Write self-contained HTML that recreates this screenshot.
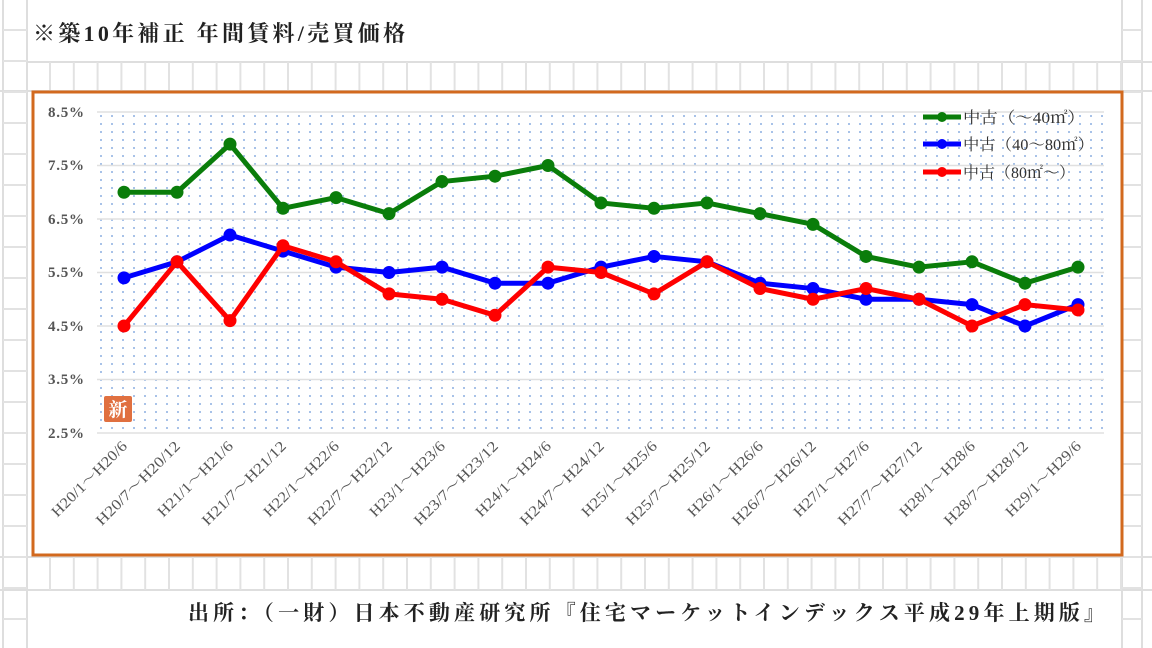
<!DOCTYPE html>
<html><head><meta charset="utf-8"><style>
html,body{margin:0;padding:0;background:#fff;}
svg{display:block;}
text{font-family:"Liberation Serif","Noto Serif CJK SC",serif;}
</style></head><body>
<svg width="1152" height="648" viewBox="0 0 1152 648" xmlns="http://www.w3.org/2000/svg">
<defs>
<pattern id="dots" x="97" y="112" width="11" height="8" patternUnits="userSpaceOnUse">
<rect x="3" y="3" width="2" height="2" fill="#a8c2e8"/>
</pattern>
</defs>
<g stroke="#dedede" stroke-width="2" fill="none" id="grid">
<line x1="3" y1="0" x2="3" y2="648"/>
<line x1="27" y1="0" x2="27" y2="648"/>
<line x1="1122" y1="0" x2="1122" y2="648"/>
<line x1="1142" y1="0" x2="1142" y2="648"/>
<line x1="27" y1="62" x2="1152" y2="62"/>
<line x1="0" y1="91" x2="1152" y2="91"/>
<line x1="0" y1="557" x2="1152" y2="557"/>
<line x1="0" y1="590" x2="1152" y2="590"/>
</g>
<g stroke="#e2e2e2" stroke-width="2" id="cells"></g>
<g stroke="#e2e2e2" stroke-width="2" id="side"></g>
<text x="33" y="41" font-size="22" font-weight="bold" fill="#222" textLength="372" lengthAdjust="spacing" font-family="'Liberation Sans','Noto Sans CJK JP',sans-serif">※築10年補正 年間賃料/売買価格</text>
<rect x="33" y="92" width="1089" height="463" fill="#fff" stroke="#d2691e" stroke-width="3"/>
<rect x="97" y="112" width="1007" height="321" fill="url(#dots)"/>
<g stroke="#e0e0e0" stroke-width="1.5">
<line x1="97" y1="112" x2="1104" y2="112"/><line x1="97" y1="165.5" x2="1104" y2="165.5"/>
<line x1="97" y1="219" x2="1104" y2="219"/><line x1="97" y1="272.5" x2="1104" y2="272.5"/>
<line x1="97" y1="326" x2="1104" y2="326"/><line x1="97" y1="379.5" x2="1104" y2="379.5"/>
<line x1="97" y1="433" x2="1104" y2="433"/>
</g>
<g font-size="15" fill="#555" font-weight="bold">
<text x="48" y="117" textLength="36" lengthAdjust="spacing">8.5%</text><text x="48" y="170" textLength="36" lengthAdjust="spacing">7.5%</text><text x="48" y="224" textLength="36" lengthAdjust="spacing">6.5%</text>
<text x="48" y="277" textLength="36" lengthAdjust="spacing">5.5%</text><text x="48" y="331" textLength="36" lengthAdjust="spacing">4.5%</text><text x="48" y="384" textLength="36" lengthAdjust="spacing">3.5%</text>
<text x="48" y="438" textLength="36" lengthAdjust="spacing">2.5%</text>
</g>
<rect x="104" y="396" width="28" height="26" rx="2" fill="#e07040"/>
<text x="118" y="416" font-size="19" font-weight="bold" fill="#fff" text-anchor="middle" font-family="'Noto Sans CJK JP',sans-serif">新</text>
<g id="xl" font-size="15" fill="#555" text-anchor="end"></g>
<g id="series"></g>
<g font-size="16" fill="#333" font-family="'Liberation Serif','Noto Serif CJK JP',serif">
<line x1="923" y1="117" x2="961" y2="117" stroke="#0a7d0a" stroke-width="5"/><circle cx="942" cy="117" r="5" fill="#0a7d0a"/>
<text x="963" y="123" textLength="122" lengthAdjust="spacingAndGlyphs">中古（～40㎡）</text>
<line x1="923" y1="144" x2="961" y2="144" stroke="#0000ff" stroke-width="5"/><circle cx="942" cy="144" r="5" fill="#0000ff"/>
<text x="963" y="150" textLength="131" lengthAdjust="spacingAndGlyphs">中古（40～80㎡）</text>
<line x1="923" y1="172" x2="961" y2="172" stroke="#ff0000" stroke-width="5"/><circle cx="942" cy="172" r="5" fill="#ff0000"/>
<text x="963" y="178" textLength="112" lengthAdjust="spacingAndGlyphs">中古（80㎡～）</text>
</g>
<text x="188" y="620" font-size="21" font-weight="bold" fill="#222" textLength="917" lengthAdjust="spacing" font-family="'Liberation Sans','Noto Sans CJK JP',sans-serif">出所：（一財）日本不動産研究所『住宅マーケットインデックス平成29年上期版』</text>
</svg>
<script>
const NS="http://www.w3.org/2000/svg";
function el(p,t,a,txt){const e=document.createElementNS(NS,t);for(const k in a)e.setAttribute(k,a[k]);if(txt)e.textContent=txt;p.appendChild(e);return e;}
const cells=document.getElementById('cells');
for(let x=50;x<1122;x+=23.8){el(cells,'line',{x1:x,y1:62,x2:x,y2:91});el(cells,'line',{x1:x,y1:557,x2:x,y2:590});}
const side=document.getElementById('side');
for(let y=30;y<648;y+=31){el(side,'line',{x1:3,y1:y,x2:27,y2:y});el(side,'line',{x1:1122,y1:y,x2:1142,y2:y});}
const labels=[];for(let i=0;i<19;i++){const y=20+Math.floor(i/2);const a=i%2==0;labels.push(a?`H${y}/1～H${y}/6`:`H${y}/7～H${y}/12`);}
const xl=document.getElementById('xl');
const X=i=>124+i*53, Y=v=>112+(8.5-v)*53.5;
labels.forEach((l,i)=>{const x=X(i)+4,y=447;el(xl,'text',{x:x,y:y,transform:`rotate(-45 ${x} ${y})`,textLength:(i%2?112:100),lengthAdjust:'spacingAndGlyphs'},l);});
const data=[["#0a7d0a",[7.0,7.0,7.9,6.7,6.9,6.6,7.2,7.3,7.5,6.8,6.7,6.8,6.6,6.4,5.8,5.6,5.7,5.3,5.6]],
["#0000ff",[5.4,5.7,6.2,5.9,5.6,5.5,5.6,5.3,5.3,5.6,5.8,5.7,5.3,5.2,5.0,5.0,4.9,4.5,4.9]],
["#ff0000",[4.5,5.7,4.6,6.0,5.7,5.1,5.0,4.7,5.6,5.5,5.1,5.7,5.2,5.0,5.2,5.0,4.5,4.9,4.8]]];
const s=document.getElementById('series');
data.forEach(([c,v])=>{el(s,'polyline',{points:v.map((d,i)=>X(i)+','+Y(d)).join(' '),fill:'none',stroke:c,'stroke-width':5,'stroke-linejoin':'round'});
v.forEach((d,i)=>el(s,'circle',{cx:X(i),cy:Y(d),r:6.5,fill:c}));});
</script>
</body></html>
